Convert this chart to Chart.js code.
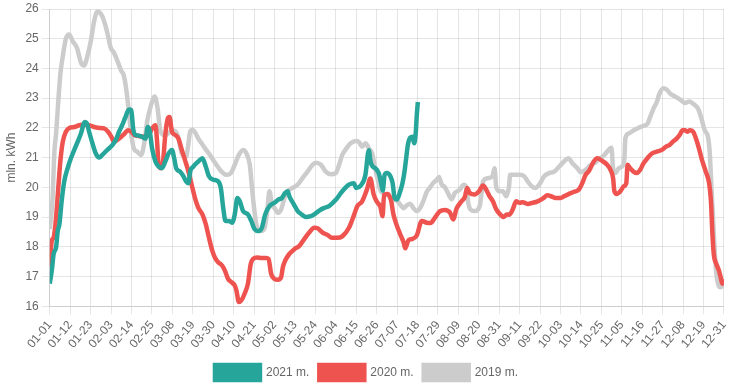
<!DOCTYPE html>
<html>
<head>
<meta charset="utf-8">
<script src="https://cdn.jsdelivr.net/npm/chart.js@4"></script>
<style>
  html, body { margin: 0; padding: 0; background: #fff; }
  #wrap { position: relative; width: 739px; height: 390px; }
</style>
</head>
<body>
<div id="wrap"><canvas id="energyChart"></canvas></div>
<script>
/* x axis tick labels, one every 11 days */
const tickLabels = ['01-01','01-12','01-23','02-03','02-14','02-25','03-08','03-19','03-30','04-10',
  '04-21','05-02','05-13','05-24','06-04','06-15','06-26','07-07','07-18','07-29','08-09','08-20',
  '08-31','09-11','09-22','10-03','10-14','10-25','11-05','11-16','11-27','12-08','12-19','12-31'];
const tickStep = 11;

const seriesNames  = ['2021 m.', '2020 m.', '2019 m.'];
const seriesColors = ['#26a69a', '#ef5350', '#cccccc'];

/* [day of year, mln. kWh] */
const s2021 = [[0,16.76],[1.1,17.2],[2.1,17.76],[3.4,17.98],[4.3,18.53],[5.2,18.76],[6.4,19.53],[7.8,20.2],
  [9.6,20.64],[11.4,20.98],[13.2,21.26],[15,21.53],[16.8,21.81],[18.9,22.2],[20,22.15],[21.2,21.87],[23,21.48],
  [24.8,21.14],[26.6,21.0],[28.3,21.09],[31,21.26],[33.7,21.42],[35.5,21.59],[37.3,21.87],[39,22.09],[40.8,22.37],
  [42.6,22.62],[43.9,22.6],[44.9,21.98],[46.2,21.76],[47.9,21.74],[49.7,21.7],[51.5,21.64],[52.8,22.03],[53.8,21.9],
  [55.1,21.31],[56.9,20.87],[58.6,20.7],[60.4,20.64],[62.2,20.87],[64,21.14],[65.8,21.26],[67,20.98],[68.1,20.64],
  [70.2,20.53],[72,20.37],[73.4,20.2],[74.7,20.14],[75.6,20.53],[77.3,20.7],[80,20.87],[82.2,20.98],[84,20.7],
  [85.7,20.37],[88,20.26],[90.7,20.2],[92.1,19.98],[93.4,19.31],[94.6,18.87],[96.4,18.87],[98.2,18.81],[99.6,19.09],
  [101,19.64],[102.3,19.53],[104.1,19.2],[106.7,19.09],[108.5,18.87],[110.3,18.59],[112.4,18.53],[114.2,18.64],
  [116,19.09],[118.3,19.37],[121,19.48],[123.1,19.59],[124.9,19.64],[126.7,19.81],[128.1,19.87],[129,19.7],
  [131.5,19.42],[133.5,19.2],[135.6,19.09],[137.9,19.0],[140.6,19.03],[142.4,19.09],[145.1,19.22],[147.5,19.3],
  [150.4,19.37],[154,19.58],[157.5,19.87],[161.1,20.09],[163.7,20.14],[165,19.98],[167.3,20.05],[169.9,20.4],
  [171.8,21.25],[172.7,20.87],[173.9,20.7],[175.3,20.64],[177.1,20.48],[178.6,20.09],[179.3,19.89],[180.3,20.42],
  [181.6,20.48],[183.4,20.37],[184.6,20.14],[185.7,19.64],[186.9,19.59],[188.7,19.87],[189.9,20.14],[191,20.53],
  [191.9,20.98],[192.8,21.42],[194,21.67],[195.3,21.7],[196.2,21.48],[197.1,21.87],[197.6,22.42],[198.2,22.87]];

const s2020 = [[0,17.35],[1.1,18.2],[2.1,18.31],[3.4,18.98],[4.6,19.98],[5.7,20.87],[7,21.53],[8.7,21.87],
  [10.5,22.0],[13.2,22.03],[15.9,22.09],[18.5,22.11],[21.2,22.09],[23.9,22.03],[26.6,22.0],[29.2,21.98],[31.4,21.87],
  [33.2,21.7],[34.6,21.53],[36.4,21.6],[38.5,21.7],[40.3,21.81],[42.1,21.92],[43.9,21.87],[45.6,21.76],[47.9,21.73],
  [50.6,21.7],[53.3,21.76],[55.1,21.98],[56.9,22.09],[57.8,21.53],[58.6,20.76],[59.9,20.64],[61,20.87],[62.2,21.76],
  [63.5,22.31],[64.5,22.37],[65.8,21.87],[67.6,21.76],[69.3,21.64],[71.1,21.26],[72.9,20.9],[74.7,20.53],[76.4,20.09],
  [78.2,19.64],[80,19.31],[82.2,19.09],[84,18.76],[85.7,18.31],[87.5,17.87],[88.9,17.64],[90.7,17.48],[92.8,17.37],
  [94.3,17.2],[96,16.92],[97.8,16.81],[99.6,16.7],[100.5,16.53],[101.8,16.14],[103.2,16.2],[104.9,16.42],[106.7,16.76],
  [108.2,17.42],[109.4,17.59],[111.7,17.64],[113.9,17.62],[116.5,17.62],[117.8,17.59],[119.2,17.09],[121,16.92],
  [122.8,16.89],[124.6,16.98],[125.5,17.31],[126.7,17.53],[129,17.76],[131.7,17.92],[134.4,18.03],[137,18.26],
  [139.7,18.48],[142.4,18.64],[144.2,18.62],[146.9,18.48],[149.5,18.4],[152.2,18.3],[154.5,18.3],[157.5,18.35],
  [161.1,18.64],[163.7,19.05],[165.6,19.37],[168.2,19.53],[170.9,19.95],[172.6,20.3],[174.4,19.76],[176.3,19.5],
  [178,19.35],[179.2,19.03],[180,19.76],[182,19.78],[183.8,19.55],[185,19.1],[186.5,18.78],[188.7,18.42],[190.5,18.15],
  [191.4,17.95],[193.2,18.23],[195,18.26],[197.6,18.38],[200.3,18.87],[203,18.81],[205,18.8],[207.4,18.98],[210.1,19.2],
  [212.8,19.24],[215.5,19.15],[217.2,18.92],[219,19.28],[221.7,19.53],[223.5,19.68],[224.7,19.98],[226.1,19.81],
  [228.8,19.76],[231.1,19.87],[233.3,20.06],[235,19.92],[236.8,19.7],[238.6,19.53],[240.4,19.26],[242.5,19.09],
  [244.3,19.0],[246.1,19.09],[247.5,19.08],[249.3,19.26],[251.1,19.53],[252.9,19.48],[254.6,19.5],[257.3,19.44],
  [260,19.48],[262.7,19.53],[265.4,19.62],[268,19.73],[269.8,19.7],[272.5,19.64],[275.1,19.64],[276.9,19.7],
  [279.6,19.78],[282.3,19.85],[284.9,19.93],[286.7,20.14],[288.5,20.42],[290.3,20.55],[292.9,20.87],[294.8,20.98],
  [297.4,20.89],[300.1,20.76],[301.9,20.59],[303.3,20.31],[304,19.87],[305.4,19.78],[307.2,19.87],[309,20.03],
  [310.4,20.14],[311.1,20.76],[312.5,20.64],[314.3,20.53],[316.1,20.48],[317.9,20.59],[319.7,20.81],[321.8,20.98],
  [324.2,21.14],[326.8,21.2],[329.5,21.26],[331.8,21.37],[333.6,21.42],[335.4,21.53],[337.5,21.64],[339.3,21.78],
  [340.7,21.92],[342,21.92],[343.2,21.87],[344.6,21.92],[346.4,21.87],[348.2,21.59],[350,21.2],[351.4,20.87],
  [353.2,20.53],[355,20.14],[356,19.53],[356.8,18.42],[357.5,17.76],[358.9,17.42],[360.3,17.2],[361.2,16.98],
  [362.1,16.76],[363,16.92]];

const s2019 = [[0,18.6],[1.5,19.6],[2.5,21.2],[3.4,21.8],[4.6,22.9],[5.7,23.8],[7,24.4],[8.7,25.0],[10.5,25.14],
  [12.3,24.92],[14.6,24.7],[16.8,24.2],[18.5,24.1],[20.3,24.42],[22.1,24.92],[23.9,25.59],[25.7,25.92],[27.8,25.81],
  [29.6,25.53],[31.4,25.09],[32.8,24.7],[34.6,24.53],[36.4,24.26],[38.5,23.92],[39.9,23.76],[41.4,23.2],[42.6,22.53],
  [43.9,21.76],[45.3,21.31],[47.1,21.2],[49.2,21.09],[51,21.53],[52.4,22.2],[54.5,22.76],[56.5,23.06],[58.1,22.64],
  [59.5,21.92],[62,21.75],[66.3,21.92],[68.8,21.76],[71.1,21.14],[73.4,21.03],[74.3,21.3],[75.6,21.87],[76.8,21.94],
  [78.6,21.81],[80,21.64],[81.8,21.48],[83.6,21.31],[85.7,21.14],[88,20.92],[90.4,20.7],[92.5,20.53],[95.2,20.42],
  [97.5,20.48],[99.6,20.76],[101.8,21.09],[104.1,21.26],[105.9,21.14],[107.7,20.76],[108.9,19.98],[110,19.31],
  [111.2,18.76],[112.5,18.53],[113.9,18.53],[115.7,18.64],[117.1,19.2],[118.3,19.87],[119.6,19.42],[121,19.31],
  [122.8,19.14],[124.6,19.26],[126.4,19.64],[128.1,19.87],[130.8,19.98],[133.5,20.09],[136.1,20.31],[138.8,20.53],
  [141.5,20.76],[143.3,20.83],[146,20.76],[148.6,20.53],[151.3,20.44],[154,20.48],[155.8,20.76],[157.5,21.09],
  [159.7,21.31],[162,21.48],[164.7,21.56],[166.4,21.53],[168.2,21.37],[170,21.48],[171.8,21.31],[173.6,21.14],
  [175,20.7],[176.8,20.2],[178.2,19.87],[181.6,19.76],[184.3,19.6],[186.9,19.55],[188.7,19.42],[190.5,19.3],
  [192.3,19.4],[194.1,19.45],[195.8,19.3],[197.6,19.2],[199.4,19.3],[201.2,19.55],[203,19.85],[204.8,20.0],
  [206.5,20.15],[208.3,20.25],[209.6,20.35],[211,20.1],[212.8,20.0],[214.6,19.78],[216.4,19.6],[218.1,19.81],
  [220.8,19.92],[222.9,20.09],[224.4,19.98],[225.2,19.53],[226.5,19.26],[228.8,19.2],[231.5,19.37],[232.4,19.76],
  [233.3,20.2],[236,20.31],[238.3,20.37],[239.5,20.64],[240.4,20.0],[242.2,19.87],[244,19.87],[245.7,19.7],
  [247.2,20.0],[247.9,20.42],[250.2,20.42],[252.9,20.42],[255.5,20.37],[257.3,20.2],[259.6,20.03],[261.4,19.98],
  [263.5,20.09],[266.2,20.37],[268.9,20.48],[271.6,20.53],[274.3,20.7],[276.9,20.87],[279.3,20.98],[281.4,20.81],
  [284.1,20.64],[285.8,20.51],[288.5,20.59],[291.2,20.75],[294,20.85],[296.5,20.98],[298.3,21.07],[300.1,21.2],
  [302.4,21.33],[303.3,20.64],[304.6,20.48],[306.3,20.64],[308.1,20.7],[309.4,20.98],[309.9,21.64],[311.7,21.81],
  [314.4,21.92],[317,22.0],[319.7,22.07],[321.8,22.14],[323.3,22.37],[325,22.64],[326.8,22.87],[328.2,23.14],
  [330.4,23.33],[332.1,23.29],[334.3,23.14],[336.6,23.06],[339.3,22.96],[342,22.84],[344.3,22.89],[346.4,22.81],
  [349.1,22.64],[350.9,22.31],[352.6,21.92],[354.4,21.7],[355.3,21.2],[356.2,20.09],[357.1,18.98],[358,17.87],
  [358.9,17.09],[359.8,16.76],[361,16.64],[362.4,16.7],[363,16.87]];

const allSeries = [s2021, s2020, s2019];

Chart.defaults.font.family = 'Arial, "Liberation Sans", sans-serif';
Chart.defaults.font.size = 12;
Chart.defaults.color = '#666';

const ctx = document.getElementById('energyChart');
new Chart(ctx, {
  type: 'line',
  data: {
    datasets: allSeries.map((s, i) => ({
      label: seriesNames[i],
      data: s.map(([x, y]) => ({ x, y })),
      borderColor: seriesColors[i],
      backgroundColor: seriesColors[i],
      borderWidth: 4.5,
      pointRadius: 0,
      pointHoverRadius: 0,
      fill: false,
      cubicInterpolationMode: 'monotone'
    }))
  },
  options: {
    responsive: true,
    maintainAspectRatio: false,
    animation: false,
    layout: { padding: { top: 0, right: 6 } },
    plugins: {
      legend: {
        position: 'bottom',
        labels: { boxWidth: 45, boxHeight: 15, color: '#666', font: { size: 12 } }
      },
      tooltip: { enabled: false }
    },
    scales: {
      x: {
        type: 'linear',
        min: 0,
        max: (tickLabels.length - 1) * tickStep,
        afterBuildTicks: axis => {
          axis.ticks = tickLabels.map((_, i) => ({ value: i * tickStep }));
        },
        ticks: {
          autoSkip: false,
          minRotation: 50,
          maxRotation: 50,
          padding: 4,
          callback: (v, i) => tickLabels[i]
        },
        grid: { color: 'rgba(0,0,0,0.1)' }
      },
      y: {
        min: 16,
        max: 26,
        ticks: { stepSize: 1, font: { size: 12, lineHeight: 1 } },
        grid: { color: 'rgba(0,0,0,0.1)' },
        title: { display: true, text: 'mln. kWh', color: '#666', font: { size: 12 } }
      }
    }
  }
});
</script>
</body>
</html>
